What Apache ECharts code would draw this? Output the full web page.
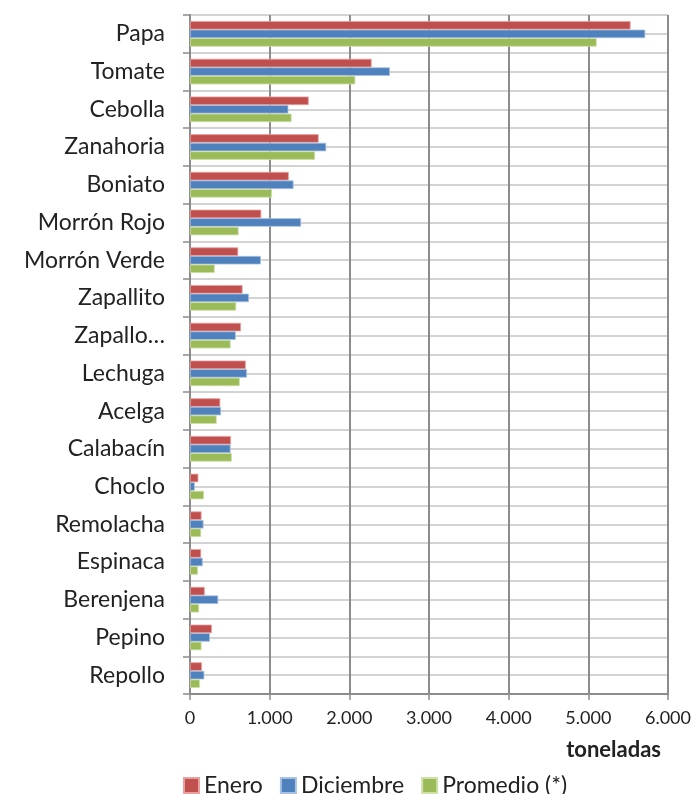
<!DOCTYPE html>
<html><head><meta charset="utf-8">
<script src="https://cdn.jsdelivr.net/npm/echarts@6/dist/echarts.min.js"></script>
<style>html,body{margin:0;padding:0;background:#fff}#c{width:694px;height:794px}</style>
</head><body><div id="c"></div>
<script>
const categories = ["Papa","Tomate","Cebolla","Zanahoria","Boniato","Morrón Rojo","Morrón Verde","Zapallito","Zapallo…","Lechuga","Acelga","Calabacín","Choclo","Remolacha","Espinaca","Berenjena","Pepino","Repollo"];
const enero      = [5530,2280,1490,1615,1240,895,605,660,640,700,380,515,105,145,140,185,275,150];
const diciembre  = [5715,2510,1235,1710,1300,1395,890,740,575,715,390,510,60,170,160,355,250,180];
const promedio   = [5105,2075,1275,1570,1030,610,310,580,510,625,335,525,175,140,100,115,145,125];
const xTicks = [0,1000,2000,3000,4000,5000,6000];

const FONT = 'Lato, "Open Sans", sans-serif';
const chart = echarts.init(document.getElementById('c'));
function fmt(v){ return String(v).replace(/\B(?=(\d{3})+(?!\d))/g,'.'); }
function bar(name,data,color,border){
  return {name,type:'bar',data,yAxisIndex:0,barGap:'0%',barCategoryGap:'32%',
    itemStyle:{color,borderColor:border,borderWidth:0.8}};
}
chart.setOption({
  animation:false,
  textStyle:{fontFamily:FONT},
  grid:{left:190,right:25,top:15,bottom:100,containLabel:false},
  xAxis:{type:'value',min:xTicks[0],max:xTicks[xTicks.length-1],interval:1000,
    name:'toneladas',nameLocation:'end',nameGap:0,
    nameTextStyle:{fontFamily:FONT,fontWeight:'bold',fontSize:22,color:'#222',align:'right',verticalAlign:'top',padding:[45,7,0,0]},
    axisLine:{show:true,lineStyle:{color:'#8c8c8c',width:2}},
    axisTick:{show:true,length:6,lineStyle:{color:'#8c8c8c',width:1.5}},
    axisLabel:{formatter:fmt,fontSize:18,color:'#222',margin:15,fontFamily:FONT},
    splitLine:{show:true,lineStyle:{color:'#8c8c8c',width:2}}},
  yAxis:[
    {type:'category',data:categories,inverse:true,
     axisLine:{show:true,lineStyle:{color:'#8c8c8c',width:2}},
     axisTick:{show:true,length:7,lineStyle:{color:'#8c8c8c',width:1.5}},
     axisLabel:{fontSize:23,color:'#222',margin:25,fontFamily:FONT},
     splitLine:{show:false}},
    {type:'value',min:0,max:18,interval:0.5,position:'right',
     axisLine:{show:false},axisTick:{show:false},axisLabel:{show:false},
     splitLine:{show:true,lineStyle:{color:'#c4c4c4',width:1.5}}}
  ],
  legend:{left:183,top:774,padding:0,itemWidth:15,itemHeight:15,itemGap:17,icon:'rect',
    textStyle:{fontSize:23,color:'#222',fontFamily:FONT},
    data:['Enero','Diciembre','Promedio (*)']},
  series:[
    bar('Enero',enero,'#C0504D','#e8a09e'),
    bar('Diciembre',diciembre,'#4F81BD','#a9c1e0'),
    bar('Promedio (*)',promedio,'#9BBB59','#cfe0ab')
  ]
});
</script></body></html>
